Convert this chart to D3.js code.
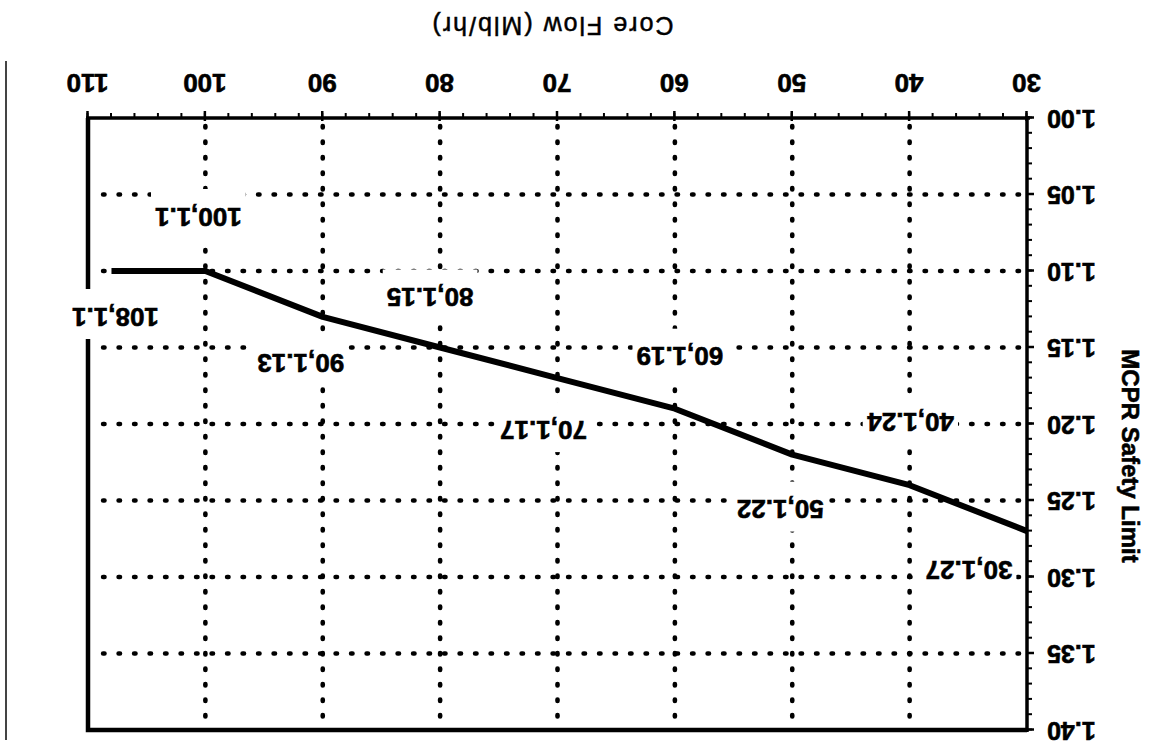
<!DOCTYPE html>
<html>
<head>
<meta charset="utf-8">
<script src="https://cdn.jsdelivr.net/npm/d3@7"></script>
<style>
  body { margin: 0; background: #fff; }
</style>
</head>
<body>
<div id="chart"></div>
<script>
// --- Data ---
const coreFlow = [30, 40, 50, 60, 70, 80, 90, 100, 108];
const mcprLimit = [1.27, 1.24, 1.22, 1.19, 1.17, 1.15, 1.13, 1.10, 1.10];
const pointLabels = ["30,1.27", "40,1.24", "50,1.22", "60,1.19", "70,1.17", "80,1.15", "90,1.13", "100,1.1", "108,1.1"];
const xTickValues = [30, 40, 50, 60, 70, 80, 90, 100, 110];
const yTickValues = [1.00, 1.05, 1.10, 1.15, 1.20, 1.25, 1.30, 1.35, 1.40];

// label offsets from their point, in px (layout only)
const labelOffsets = [[58, -39], [-1, 63], [12, -55], [-5, 52], [14, -52], [10, 50], [22, -46], [7, 54], [-4, -46]];

// --- Setup ---
const width = 1149, height = 747;
const plot = { left: 122, right: 1061, top: 17, bottom: 629 };
const font = "'Liberation Sans', Arial, Helvetica, sans-serif";

const svg = d3.select("#chart").append("svg")
  .attr("width", width)
  .attr("height", height)
  .style("display", "block");

// the scanned page is upside down, so draw normally and turn it over
const g = svg.append("g")
  .attr("font-family", font)
  .attr("transform", `rotate(180 ${width / 2} ${height / 2})`);

const x = d3.scaleLinear().domain([30, 110]).range([plot.left, plot.right]);
const y = d3.scaleLinear().domain([1.00, 1.40]).range([plot.bottom, plot.top]);

// heavy scanned-looking text
const heavy = sel => sel
  .attr("font-family", font)
  .attr("font-weight", "bold")
  .attr("fill", "#000")
  .attr("stroke", "#000")
  .attr("stroke-width", 0.6);

// --- Dotted grid ---
const dotted = sel => sel
  .attr("stroke", "#000")
  .attr("stroke-width", 4.6)
  .attr("stroke-linecap", "round")
  .attr("stroke-dasharray", "1.4 14.1");

g.append("g").selectAll("line")
  .data(xTickValues.slice(1, -1))
  .join("line")
  .attr("x1", d => x(d)).attr("x2", d => x(d))
  .attr("y1", plot.bottom - 8).attr("y2", plot.top + 4)
  .call(dotted);

g.append("g").selectAll("line")
  .data(yTickValues.slice(1, -1))
  .join("line")
  .attr("x1", plot.left + 8).attr("x2", plot.right - 4)
  .attr("y1", d => y(d)).attr("y2", d => y(d))
  .call(dotted);

// --- Frame (top and right edges) ---
g.append("path")
  .attr("d", `M${plot.left},${plot.top}H${plot.right}V${plot.bottom}`)
  .attr("fill", "none")
  .attr("stroke", "#000")
  .attr("stroke-width", 4.5);

// --- Axes ---
const minorX = d3.range(30, 110.01, 2);
const minorY = d3.range(1.00, 1.4001, 0.01);

g.append("g")
  .attr("transform", `translate(0,${plot.bottom})`)
  .call(d3.axisBottom(x).tickValues(minorX).tickSize(5).tickFormat(""))
  .call(a => a.select(".domain").remove())
  .selectAll("line").attr("stroke-width", 2);

g.append("g")
  .attr("transform", `translate(${plot.left},0)`)
  .call(d3.axisLeft(y).tickValues(minorY).tickSize(5).tickFormat(""))
  .call(a => a.select(".domain").remove())
  .selectAll("line").attr("stroke-width", 2);

const xAxis = g.append("g")
  .attr("transform", `translate(0,${plot.bottom})`)
  .call(d3.axisBottom(x).tickValues(xTickValues).tickSize(7).tickPadding(19).tickFormat(d3.format("d")));
xAxis.select(".domain").attr("stroke-width", 3.5).attr("d", `M${plot.left - 3},0H${plot.right + 2}`);
xAxis.selectAll("line").attr("stroke-width", 2.5).attr("y1", -3);
xAxis.selectAll("text").attr("font-size", 26).call(heavy);

const yAxis = g.append("g")
  .attr("transform", `translate(${plot.left},0)`)
  .call(d3.axisLeft(y).tickValues(yTickValues).tickSize(7).tickPadding(13).tickFormat(d3.format(".2f")));
yAxis.select(".domain").attr("stroke-width", 3.5).attr("d", `M0,${plot.top - 2}V${plot.bottom + 2}`);
yAxis.selectAll("line").attr("stroke-width", 2.5);
yAxis.selectAll("text").attr("font-size", 25).call(heavy);

// --- Limit line ---
const line = d3.line()
  .x((d, i) => x(coreFlow[i]))
  .y((d, i) => y(mcprLimit[i]));

g.append("path")
  .datum(coreFlow)
  .attr("d", line)
  .attr("fill", "none")
  .attr("stroke", "#000")
  .attr("stroke-width", 6)
  .attr("stroke-linejoin", "round");

// --- Point labels with white boxes ---
const labels = g.append("g");
pointLabels.forEach((txt, i) => {
  const cx = x(coreFlow[i]) + labelOffsets[i][0];
  const cy = y(mcprLimit[i]) + labelOffsets[i][1];
  const lg = labels.append("g");
  const rect = lg.append("rect").attr("fill", "#fff");
  const t = lg.append("text")
    .attr("x", cx)
    .attr("y", cy)
    .attr("dy", "0.36em")
    .attr("text-anchor", "middle")
    .attr("font-size", 26)
    .call(heavy)
    .text(txt);
  const bb = t.node().getBBox();
  rect.attr("x", bb.x - 4).attr("width", bb.width + 8)
    .attr("y", cy - 22).attr("height", 50);
});

// --- Axis titles ---
g.append("text")
  .attr("x", 597)
  .attr("y", 730)
  .attr("text-anchor", "middle")
  .attr("font-size", 25)
  .attr("letter-spacing", 2)
  .attr("stroke", "#000")
  .attr("stroke-width", 0.5)
  .text("Core Flow (Mlb/hr)");

g.append("text")
  .attr("transform", `translate(27,${747 - 456}) rotate(-90)`)
  .attr("text-anchor", "middle")
  .attr("font-size", 24)
  .call(heavy)
  .text("MCPR Safety Limit");

// scan edge on the page
g.append("line")
  .attr("x1", 1143).attr("x2", 1143)
  .attr("y1", 7).attr("y2", 686)
  .attr("stroke", "#444")
  .attr("stroke-width", 2);
</script>
</body>
</html>
